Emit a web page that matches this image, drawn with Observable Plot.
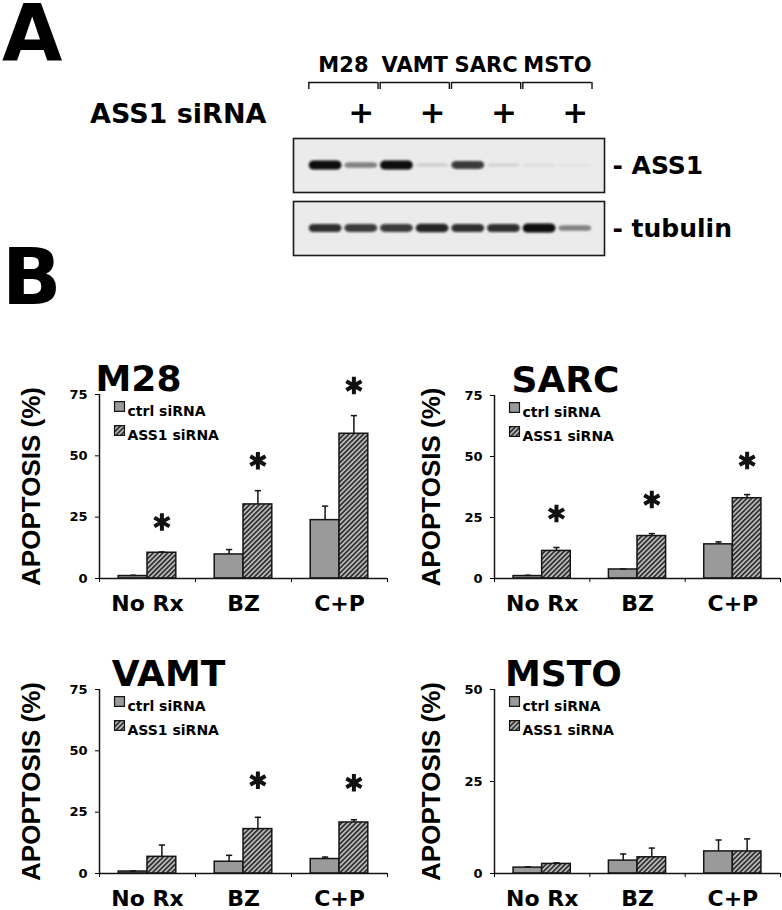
<!DOCTYPE html>
<html>
<head>
<meta charset="utf-8">
<script src="https://cdn.jsdelivr.net/npm/d3@7"></script>
<script src="https://cdn.jsdelivr.net/npm/@observablehq/plot@0.6"></script>
<style>
  body { margin: 0; background: #fff; }
  #root { position: relative; width: 782px; height: 910px; background: #fff; overflow: hidden; }
  .lbl { position: absolute; font-family: 'DejaVu Sans', sans-serif; font-weight: bold; line-height: 1; white-space: nowrap; color: #000; }
  .big { line-height: 0.85; }
  #root svg.p { position: absolute; background: transparent; overflow: visible; }
</style>
</head>
<body>
<svg width="0" height="0" style="position:absolute">
  <defs>
    <pattern id="hatch" patternUnits="userSpaceOnUse" width="3.4" height="3.4" patternTransform="rotate(45)">
      <rect width="3.4" height="3.4" fill="#b8b8b8"/>
      <rect width="1.6" height="3.4" fill="#2a2a2a"/>
    </pattern>
    <filter id="blur" filterUnits="userSpaceOnUse" x="-50" y="-50" width="800" height="300">
      <feGaussianBlur stdDeviation="1.1"/>
    </filter>
  </defs>
</svg>
<div id="root">
  <div class="lbl big" style="left:2px;top:0px;font-size:78px">A</div>
  <div class="lbl big" style="left:2px;top:244px;font-size:78px">B</div>
  <div class="lbl" style="left:90px;top:100px;font-size:27px">ASS1 siRNA</div>
</div>
<script>
// ---------- data ----------
const cellLines = ["M28", "VAMT", "SARC", "MSTO"];
const ass1siRNA = ["", "+", "", "+", "", "+", "", "+"];
const ass1Band = [1.0, 0.45, 1.0, 0.12, 0.8, 0.1, 0.06, 0.03];
const tubulinBand = [0.85, 0.8, 0.8, 0.9, 0.85, 0.85, 1.0, 0.45];
const blotLabels = ["- ASS1", "- tubulin"];

const treatments = ["No Rx", "BZ", "C+P"];
const groups = ["ctrl siRNA", "ASS1 siRNA"];
const yLabel = "APOPTOSIS (%)";
const ticks75 = [0, 25, 50, 75];
const ticks50 = [0, 25, 50];

const m28Ctrl = [1.0, 9.8, 23.8];
const m28CtrlErr = [0.3, 2.0, 5.7];
const m28Ass1 = [10.5, 30.2, 59.0];
const m28Ass1Err = [0.3, 5.6, 7.4];
const m28Sig = [true, true, true];

const sarcCtrl = [1.0, 3.7, 14.0];
const sarcCtrlErr = [0.3, 0.2, 1.0];
const sarcAss1 = [11.3, 17.4, 32.9];
const sarcAss1Err = [1.4, 1.0, 1.5];
const sarcSig = [true, true, true];

const vamtCtrl = [0.8, 4.8, 5.9];
const vamtCtrlErr = [0.2, 2.6, 0.8];
const vamtAss1 = [6.8, 18.1, 20.8];
const vamtAss1Err = [4.8, 4.8, 1.1];
const vamtSig = [false, true, true];

const mstoCtrl = [1.6, 3.5, 6.0];
const mstoCtrlErr = [0.2, 1.8, 3.1];
const mstoAss1 = [2.6, 4.4, 6.0];
const mstoAss1Err = [0.3, 2.5, 3.4];
const mstoSig = [false, false, false];

// ---------- helpers ----------
const FONT_A = "'DejaVu Sans', sans-serif";
const FONT_B = "'Liberation Sans', Arial, sans-serif";
const root = document.getElementById("root");

function place(svg, left, top) {
  svg.classList.add("p");
  svg.style.left = left + "px";
  svg.style.top = top + "px";
  svg.style.background = "transparent";
  root.appendChild(svg);
}

// ---------- panel A ----------
const laneX = {domain: [-0.9, 7.82], axis: null};

const header = Plot.plot({
  width: 502, height: 100,
  marginLeft: 13, marginRight: 178, marginTop: 42, marginBottom: 51,
  x: laneX,
  y: {domain: [0, 1], axis: null},
  style: {fontFamily: FONT_A, fontWeight: "bold", background: "transparent"},
  marks: [
    Plot.text(cellLines, {x: (d, i) => 2 * i + 0.5, y: 1, dy: -17, text: d => d, fontSize: 21}),
    Plot.ruleY(cellLines, {x1: (d, i) => 2 * i - 0.47, x2: (d, i) => 2 * i + 1.47, y: 1, stroke: "#111", strokeWidth: 1.4}),
    Plot.ruleX(cellLines.flatMap((d, i) => [2 * i - 0.47, 2 * i + 1.47]), {x: d => d, y1: 0, y2: 1, stroke: "#111", strokeWidth: 1.4}),
    Plot.text(ass1siRNA, {x: (d, i) => i, y: 0, dy: 24, text: d => d, fontSize: 31})
  ]
});
place(header, 280, 40);

function blotRow(values, label, top) {
  const svg = Plot.plot({
    width: 502, height: 64,
    marginLeft: 13, marginRight: 178, marginTop: 5, marginBottom: 5,
    x: laneX,
    y: {domain: [-1, 1], axis: null},
    opacity: {domain: [0, 1]},
    style: {fontFamily: FONT_A, fontWeight: "bold", background: "transparent"},
    marks: [
      Plot.frame({fill: "#ebebeb", stroke: "none"}),
      Plot.rect(values, {
        x1: (d, i) => i - 0.46, x2: (d, i) => i + 0.46,
        y1: d => -(0.05 + 0.12 * d), y2: d => 0.05 + 0.12 * d,
        fill: "#0a0a0a", fillOpacity: d => d, rx: 5
      }),
      Plot.frame({stroke: "#1a1a1a", strokeWidth: 1.6}),
      Plot.text([label], {frameAnchor: "right", dx: 8, textAnchor: "start", text: d => d, fontSize: 25})
    ]
  });
  d3.select(svg).selectAll('g[aria-label="rect"]').attr("filter", "url(#blur)");
  place(svg, 280, top);
}
blotRow(ass1Band, blotLabels[0], 133);
blotRow(tubulinBand, blotLabels[1], 196);

// ---------- panel B ----------
const capSymbol = {
  draw(ctx, size) {
    const w = Math.sqrt(size);
    ctx.moveTo(-w / 2, 0);
    ctx.lineTo(w / 2, 0);
  }
};

function barChart(cfg) {
  const rows = treatments.flatMap((t, i) => [
    {i, g: 0, v: cfg.ctrl[i], e: cfg.ctrlErr[i], sig: false},
    {i, g: 1, v: cfg.ass1[i], e: cfg.ass1Err[i], sig: cfg.sig[i]}
  ]);
  const x1 = d => d.i + (d.g === 0 ? 0.2 : 0.5);
  const x2 = d => x1(d) + 0.3;
  const xm = d => x1(d) + 0.15;
  const top = d => d.v + d.e;
  const ink = "#151515";
  const svg = Plot.plot({
    width: cfg.width, height: cfg.height,
    marginLeft: cfg.mL, marginRight: cfg.mR, marginTop: cfg.mT, marginBottom: cfg.mB,
    x: {domain: [0, 3]},
    y: {domain: [0, cfg.ymax]},
    style: {fontFamily: FONT_A, fontWeight: "bold", fontSize: "13px", background: "transparent"},
    marks: [
      Plot.rect(rows.filter(d => d.g === 0), {x1, x2, y1: 0, y2: "v", fill: "#9a9a9a", stroke: ink, strokeWidth: 1.5}),
      Plot.rect(rows.filter(d => d.g === 1), {x1, x2, y1: 0, y2: "v", fill: "url(#hatch)", stroke: ink, strokeWidth: 1.5}),
      Plot.ruleX(rows, {x: xm, y1: "v", y2: top, stroke: ink, strokeWidth: 1.5}),
      Plot.dot(rows, {x: xm, y: top, symbol: capSymbol, r: 3.5, fill: "none", stroke: ink, strokeWidth: 1.5}),
      Plot.dot(rows.filter(d => d.sig), {x: xm, y: top, dy: cfg.starDy, symbol: "asterisk", r: 8.3, fill: "none", stroke: "#111", strokeWidth: 4}),
      Plot.ruleX([0], {stroke: ink, strokeWidth: 1.5}),
      Plot.ruleY([0], {stroke: ink, strokeWidth: 1.5}),
      Plot.axisY({ticks: cfg.yTicks, tickSize: 4, tickPadding: 8, label: null, fontSize: 13, fontWeight: "bold", fontFamily: FONT_A, fill: "#000"}),
      Plot.axisX({ticks: [0, 1, 2, 3], tickSize: 4, tickFormat: () => "", label: null}),
      Plot.text(treatments, {x: (d, i) => i + 0.5, y: 0, dy: 25, text: d => d, fontSize: 22}),
      Plot.text([cfg.title], {frameAnchor: "top-left", textAnchor: "middle", dx: cfg.titleDx, dy: -29, text: d => d, fontSize: 36}),
      Plot.text([yLabel], {frameAnchor: "left", textAnchor: "middle", lineAnchor: "middle", dx: -cfg.labelDx, rotate: -90, text: d => d, fontSize: 26, fontFamily: FONT_B}),
      Plot.dot([groups[0]], {frameAnchor: "top-left", dx: 20, dy: 12, symbol: "square", r: 5.6, fill: "#9a9a9a", stroke: ink, strokeWidth: 1.2}),
      Plot.dot([groups[1]], {frameAnchor: "top-left", dx: 20, dy: 36, symbol: "square", r: 5.6, fill: "url(#hatch)", stroke: ink, strokeWidth: 1.2}),
      Plot.text([groups[0]], {frameAnchor: "top-left", dx: 28, dy: 12, textAnchor: "start", text: d => d, fontSize: 14}),
      Plot.text([groups[1]], {frameAnchor: "top-left", dx: 28, dy: 36, textAnchor: "start", text: d => d, fontSize: 14})
    ]
  });
  d3.select(svg).selectAll('g[aria-label^="y-axis tick label"]')
    .attr("font-size", 13).attr("font-weight", "bold").attr("font-family", FONT_A);
  d3.select(svg).selectAll('g[aria-label^="y-axis tick label"] text')
    .style("font-size", "13px").style("font-weight", "bold");
  place(svg, cfg.left, cfg.top);
}

barChart({title: cellLines[0], ctrl: m28Ctrl, ctrlErr: m28CtrlErr, ass1: m28Ass1, ass1Err: m28Ass1Err, sig: m28Sig,
  ymax: 75, yTicks: ticks75, starDy: -30, titleDx: 39, labelDx: 68,
  left: 0, top: 330, width: 390, height: 300, mL: 99, mR: 3, mT: 64, mB: 52});
barChart({title: cellLines[2], ctrl: sarcCtrl, ctrlErr: sarcCtrlErr, ass1: sarcAss1, ass1Err: sarcAss1Err, sig: sarcSig,
  ymax: 75, yTicks: ticks75, starDy: -34, titleDx: 71, labelDx: 63,
  left: 390, top: 330, width: 392, height: 300, mL: 104, mR: 2, mT: 65, mB: 52});
barChart({title: cellLines[1], ctrl: vamtCtrl, ctrlErr: vamtCtrlErr, ass1: vamtAss1, ass1Err: vamtAss1Err, sig: vamtSig,
  ymax: 75, yTicks: ticks75, starDy: -37, titleDx: 69, labelDx: 68,
  left: 0, top: 620, width: 390, height: 290, mL: 99, mR: 3, mT: 69, mB: 37});
barChart({title: cellLines[3], ctrl: mstoCtrl, ctrlErr: mstoCtrlErr, ass1: mstoAss1, ass1Err: mstoAss1Err, sig: mstoSig,
  ymax: 50, yTicks: ticks50, starDy: -34, titleDx: 69, labelDx: 63,
  left: 390, top: 620, width: 392, height: 290, mL: 104, mR: 2, mT: 69, mB: 37});
</script>
</body>
</html>
